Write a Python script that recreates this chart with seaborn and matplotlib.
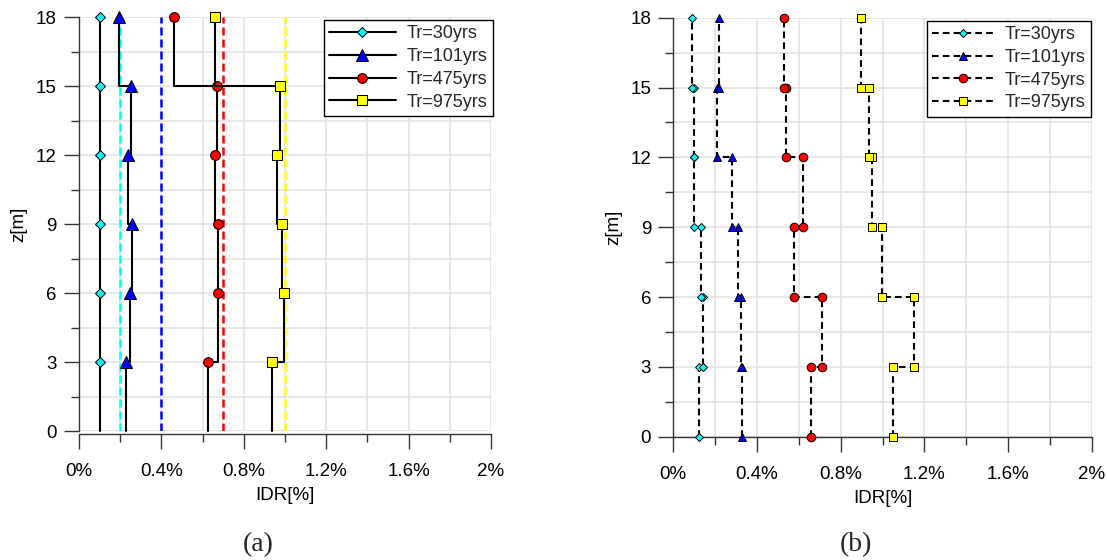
import numpy as np
import pandas as pd
import matplotlib.pyplot as plt
import matplotlib.ticker as mticker
import seaborn as sns

######################################## data ########################################
# floor levels (m); storey i spans levels[i-1] .. levels[i]
levels = [0, 3, 6, 9, 12, 15, 18]
labels = ['Tr=30yrs', 'Tr=101yrs', 'Tr=475yrs', 'Tr=975yrs']
colors = ['#00ffff', '#0000ff', '#ff0000', '#ffff00']
markers = ['D', '^', 'o', 's']

# (a) storey drift ratio [%], storey 1 (0-3m) -> storey 6 (15-18m)
idr_a_30 = [0.100, 0.100, 0.100, 0.100, 0.100, 0.100]
idr_a_101 = [0.228, 0.249, 0.256, 0.239, 0.251, 0.194]
idr_a_475 = [0.628, 0.676, 0.673, 0.662, 0.668, 0.459]
idr_a_975 = [0.938, 0.994, 0.987, 0.960, 0.975, 0.660]
# performance limits per return period
idr_limits = [0.2, 0.4, 0.7, 1.0]

# (b) storey drift ratio [%]
idr_b_30 = [0.121, 0.140, 0.133, 0.100, 0.097, 0.091]
idr_b_101 = [0.329, 0.323, 0.310, 0.281, 0.210, 0.220]
idr_b_475 = [0.660, 0.709, 0.579, 0.619, 0.539, 0.529]
idr_b_975 = [1.051, 1.149, 0.998, 0.949, 0.935, 0.898]

idr_a = [idr_a_30, idr_a_101, idr_a_475, idr_a_975]
idr_b = [idr_b_30, idr_b_101, idr_b_475, idr_b_975]


def storey_path(idr):
    # vertical segment per storey, joined by horizontal steps at floor levels
    return pd.DataFrame({'IDR': np.repeat(idr, 2),
                         'z': np.repeat(levels, 2)[1:-1]})


######################################## style ########################################
sns.set_theme(style='whitegrid')
plt.rcParams['font.family'] = ['Liberation Sans', 'DejaVu Sans']

fig = plt.figure(figsize=(11.07, 5.6), dpi=100)
ax_a = fig.add_axes([0.0714, 0.2295, 0.3721, 0.7401])
ax_b = fig.add_axes([0.6082, 0.2202, 0.3780, 0.7482])


def style_axes(ax):
    ax.set_xlim(0, 2)
    ax.set_ylim(0, 18)
    ax.xaxis.set_major_locator(mticker.MultipleLocator(0.4))
    ax.xaxis.set_minor_locator(mticker.MultipleLocator(0.2))
    ax.yaxis.set_major_locator(mticker.MultipleLocator(3))
    ax.yaxis.set_minor_locator(mticker.MultipleLocator(1.5))
    ax.xaxis.set_major_formatter(mticker.FuncFormatter(lambda v, p: f'{v:g}%'))
    ax.grid(which='both', color='#e2e2e2', lw=1.1)
    ax.set_axisbelow(True)
    for s in ['top', 'right']:
        ax.spines[s].set_visible(False)
    for s in ['left', 'bottom']:
        ax.spines[s].set_color('#333333')
        ax.spines[s].set_linewidth(1.0)
    ax.tick_params(which='both', bottom=True, left=True, direction='out',
                   color='#333333', width=1.0)
    ax.tick_params(which='major', length=11, labelsize=13.5, labelcolor='black')
    ax.tick_params(which='minor', length=6)
    ax.tick_params(axis='x', which='major', pad=10)
    ax.tick_params(axis='y', which='major', pad=5)
    ax.set_xlabel('IDR[%]', fontsize=13.5, labelpad=5, color='black')
    ax.set_ylabel('z[m]', fontsize=13.5, labelpad=6, color='black')


######################################## (a) ########################################
ms_a = [5.6, 8, 7, 7]
for idr, lab, c, mk, ms in zip(idr_a, labels, colors, markers, ms_a):
    sns.lineplot(data=storey_path(idr), x='IDR', y='z', ax=ax_a, sort=False,
                 estimator=None, color='black', lw=1.5, marker=mk, markersize=ms,
                 markerfacecolor=c, markeredgecolor='black', markeredgewidth=0.75,
                 markevery=slice(1, None, 2), label=lab, clip_on=False, zorder=4)

for lim, c in zip(idr_limits, colors):
    ax_a.axvline(lim, color=c, lw=1.8, linestyle=(0, (3.2, 1.6)), zorder=3)

style_axes(ax_a)
ax_a.spines['bottom'].set_position(('outward', 2))
ax_a.legend(loc='upper right', bbox_to_anchor=(1.005, 0.993), fontsize=13,
            frameon=True, fancybox=False, edgecolor='black', framealpha=1,
            handlelength=3.7, handletextpad=0.6, labelspacing=0.32,
            borderpad=0.3, borderaxespad=0)

######################################## (b) ########################################
ms_b = [4.3, 6.3, 6.2, 6.4]
for idr, lab, c, mk, ms in zip(idr_b, labels, colors, markers, ms_b):
    sns.lineplot(data=storey_path(idr), x='IDR', y='z', ax=ax_b, sort=False,
                 estimator=None, color='black', lw=1.5, linestyle=(0, (3.2, 2.0)),
                 marker=mk, markersize=ms, markerfacecolor=c,
                 markeredgecolor='black', markeredgewidth=0.7,
                 label=lab, clip_on=False, zorder=4)

style_axes(ax_b)
ax_b.legend(loc='upper right', bbox_to_anchor=(0.998, 0.993), fontsize=13,
            frameon=True, fancybox=False, edgecolor='black', framealpha=1,
            handlelength=3.4, handletextpad=0.6, labelspacing=0.32,
            borderpad=0.3, borderaxespad=0)

fig.text(258 / 1107, 1 - 545 / 560, '(a)', family='Liberation Serif',
         fontsize=20, ha='center', va='center')
fig.text(856 / 1107, 1 - 545 / 560, '(b)', family='Liberation Serif',
         fontsize=20, ha='center', va='center')

fig.savefig('out.png', dpi=100)
